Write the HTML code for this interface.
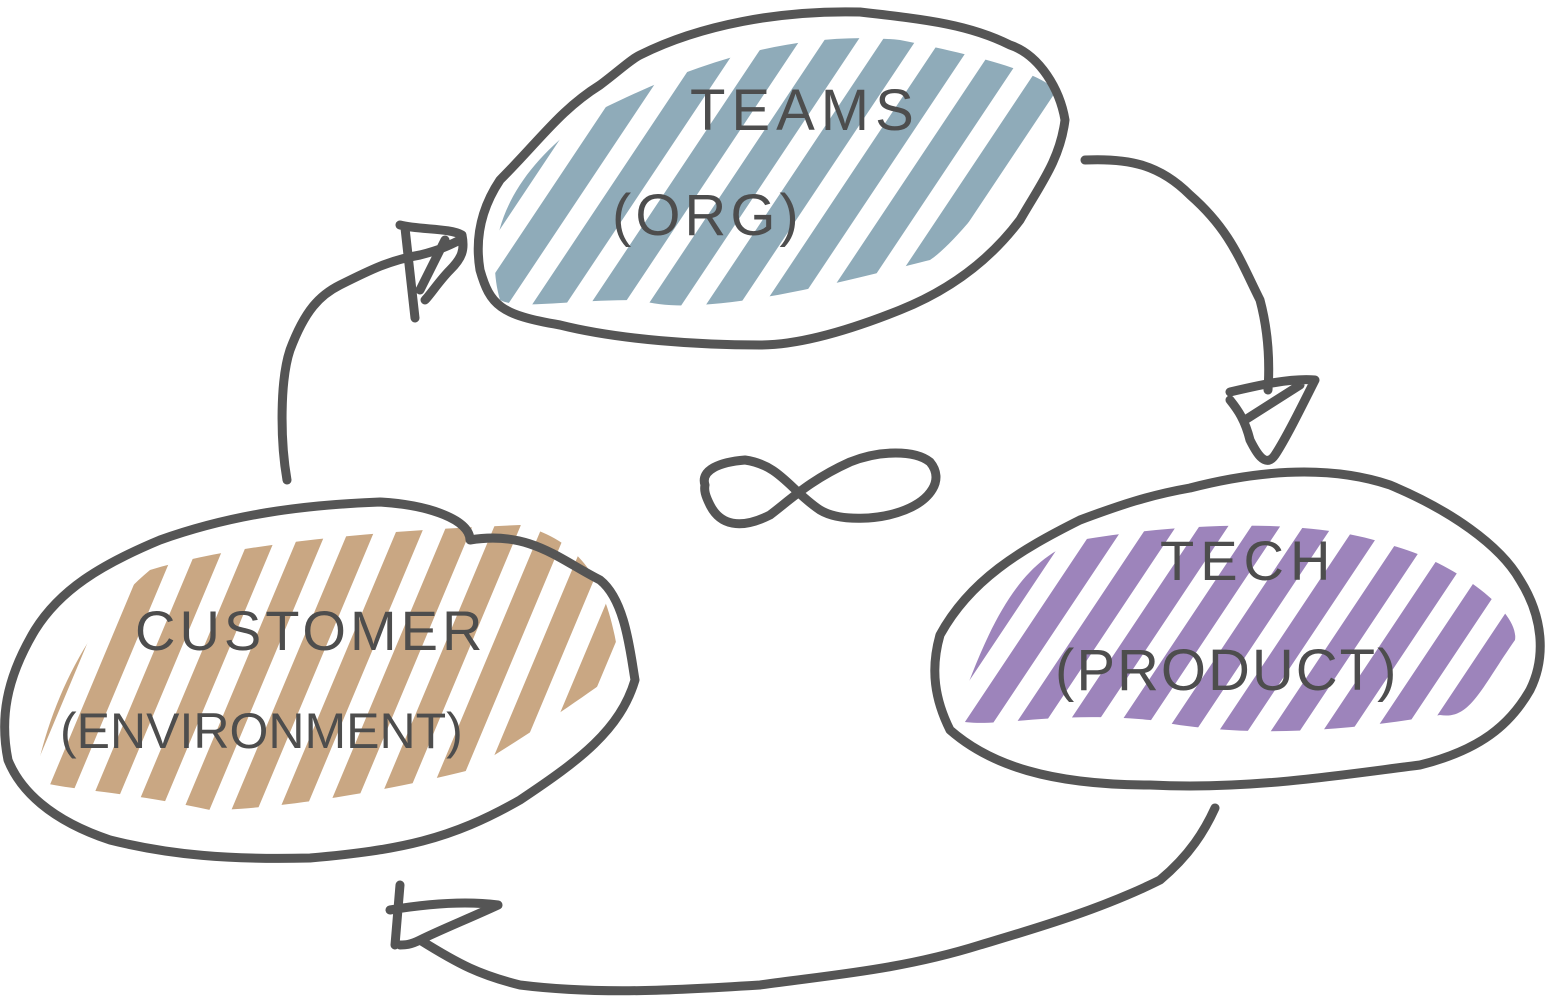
<!DOCTYPE html>
<html><head><meta charset="utf-8"><style>
html,body{margin:0;padding:0;background:#fff;}
svg{display:block}
text{font-family:"Liberation Sans",sans-serif;fill:#4d4d4d;font-weight:normal;}
</style></head><body>
<svg id="s" width="1545" height="1000" viewBox="0 0 1545 1000">
<defs>
<clipPath id="cb"><path d="M500,300 C480,230 520,160 600,110 C700,60 800,30 900,40 C1000,60 1070,80 1065,110 C1000,180 960,240 930,260 C850,280 700,320 640,300 C560,300 520,310 500,300Z"/></clipPath>
<clipPath id="cp"><path d="M955,720 C990,620 1020,560 1080,540 C1200,520 1320,520 1390,545 C1450,560 1520,610 1515,640 C1480,690 1470,720 1440,715 C1350,730 1250,740 1150,720 C1050,710 990,730 955,720Z"/></clipPath>
<clipPath id="cc"><path d="M35,780 C50,700 90,620 150,570 C250,540 400,530 520,525 C580,540 610,580 620,670 C580,700 520,740 470,770 C350,800 250,810 210,810 C120,790 60,790 35,780Z"/></clipPath>
</defs>
<g id="hb" clip-path="url(#cb)" stroke="#8fabb9" stroke-width="28" stroke-linecap="round"></g>
<g id="hp" clip-path="url(#cp)" stroke="#9d84bb" stroke-width="24" stroke-linecap="round"></g>
<g id="hc" clip-path="url(#cc)" stroke="#c9a783" stroke-width="24" stroke-linecap="round"></g>
<g fill="none" stroke="#555" stroke-width="9" stroke-linecap="round" stroke-linejoin="round">
<path d="M640,55 C700,25 780,10 860,12 C930,20 970,25 1010,45 C1040,55 1060,90 1065,120 C1060,160 1040,185 1020,220 C990,260 950,290 900,310 C850,330 800,345 760,345 C700,345 620,340 560,325 C500,315 490,305 480,270 C475,240 480,210 500,180 C540,140 560,110 600,85 C620,70 630,60 640,55Z"/>
<path d="M1190,488 C1260,470 1330,465 1390,485 C1450,510 1500,545 1520,580 C1545,620 1545,660 1530,690 C1510,725 1480,750 1420,765 C1340,775 1250,790 1150,785 C1050,785 990,765 950,730 C935,700 930,670 940,635 C970,580 1020,550 1080,520 C1120,505 1150,495 1190,488Z"/>
<path d="M470,540 C530,530 560,560 600,580 C625,600 630,650 635,680 C620,730 580,760 520,800 C450,840 400,850 310,858 C230,860 170,855 110,840 C50,820 20,790 8,760 C0,720 5,680 35,630 C60,590 100,565 160,540 C230,515 300,505 380,502 C430,505 470,520 470,540Z"/>
<path d="M287,480 C280,440 280,380 290,350 C305,310 320,295 340,285 C370,270 390,260 420,255 C440,250 450,245 460,240 M400,225 C420,230 450,228 462,235 C465,250 462,258 450,270 C440,280 430,295 425,300 M405,228 L415,318 M420,290 L445,240"/>
<path d="M1085,160 C1130,158 1160,165 1190,195 C1230,230 1240,260 1260,300 C1268,330 1270,360 1268,390 M1230,392 C1260,385 1290,378 1315,380 C1300,410 1285,440 1275,455 C1265,470 1255,450 1250,440 C1245,420 1238,410 1230,400 M1245,420 L1300,385"/>
<path d="M1215,808 C1205,830 1190,855 1160,880 C1100,910 1030,930 980,945 C900,970 830,975 760,985 C680,990 600,995 520,985 C480,975 460,965 420,940 M400,885 L395,945 M390,910 C420,905 460,900 498,905 C470,918 440,930 420,940 C410,945 405,945 400,945"/>
<path d="M705,485 C700,470 720,462 745,460 C780,465 790,490 820,510 C840,522 880,520 905,510 C930,500 945,480 930,462 C915,450 880,450 850,462 C810,480 790,500 770,515 C740,530 720,525 710,505 C705,495 704,490 705,485Z"/>
</g>
<g>
<text x="690" y="130" font-size="58" letter-spacing="6">TEAMS</text>
<text x="612" y="235" font-size="58" letter-spacing="4">(ORG)</text>
</g>
<g>
<text x="1160" y="580" font-size="56" letter-spacing="6">TECH</text>
<text x="1055" y="690" font-size="58" letter-spacing="2">(PRODUCT)</text>
</g>
<g>
<text x="135" y="650" font-size="56" letter-spacing="4">CUSTOMER</text>
<text x="60" y="748" font-size="50" letter-spacing="0">(ENVIRONMENT)</text>
</g>
</svg>
<script>
function hatch(id,x0,x1,y0,y1,dx,sp){
  var g=document.getElementById(id);
  for(var x=x0;x<x1;x+=sp){
    var l=document.createElementNS('http://www.w3.org/2000/svg','line');
    l.setAttribute('x1',x);l.setAttribute('y1',y1);
    l.setAttribute('x2',x+dx);l.setAttribute('y2',y0);
    
    
    g.appendChild(l);
  }
}
hatch('hb',300,1100,30,330,200,58);
hatch('hp',850,1550,520,760,160,52);
hatch('hc',-100,660,520,830,130,48);
</script>
</body></html>
